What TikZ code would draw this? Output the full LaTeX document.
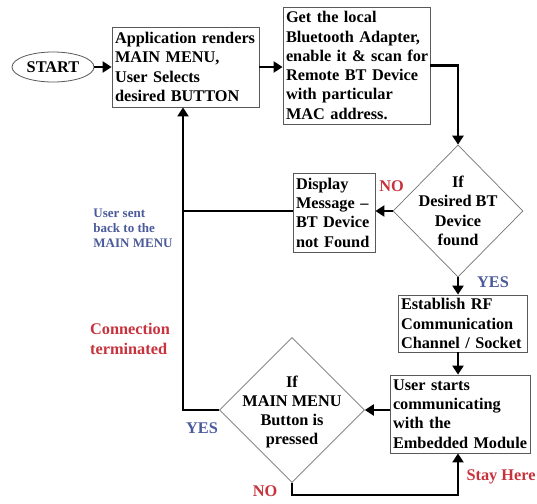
\documentclass[tikz,border=0pt]{standalone}
\usepackage{fontspec}
\setmainfont{Liberation Serif}
\usetikzlibrary{shapes.geometric,arrows.meta}
\definecolor{redlab}{HTML}{C8323C}
\definecolor{bluelab}{HTML}{4B5A9B}
\begin{document}
\begin{tikzpicture}[x=1pt,y=-1pt,
  font=\fontsize{16.3}{19.3}\selectfont\bfseries,
  box/.style={draw=black!65,line width=0.8pt,rectangle,align=left,inner xsep=3pt,inner ysep=1pt},
  dia/.style={draw=black!55,line width=0.7pt,diamond,inner sep=0pt},
  flow/.style={line width=2.2pt,-{Triangle[length=9pt,width=11pt]}},
  link/.style={line width=2.2pt},
  redl/.style={text=redlab,inner sep=0pt},
  bluel/.style={text=bluelab,inner sep=0pt}]
\useasboundingbox[fill=white] (0,0) rectangle (537,503);
\node[draw=black!65,line width=0.8pt,ellipse,minimum width=82pt,minimum height=30pt,inner sep=0pt] (start) at (53,67) {START};
\node[box,text width=141pt,minimum height=80pt] (b1) at (185.5,67) {\mbox{Application renders}\\MAIN MENU,\\User Selects\\desired BUTTON};
\node[box,text width=141pt,minimum height=117pt] (b2) at (356.5,65.5) {Get the local\\\mbox{Bluetooth Adapter,}\\\mbox{enable it \& scan for}\\Remote BT Device\\with particular\\MAC address.};
\node[box,text width=76pt,minimum height=79pt] (disp) at (334,212.5) {Display\\\mbox{Message –}\\BT Device\\not Found};
\node[box,text width=123pt,minimum height=57pt] (est) at (462.5,323.5) {Establish RF\\Communication\\\mbox{Channel / Socket}};
\node[box,text width=134pt,minimum height=78pt] (user) at (460,414) {User starts\\communicating\\with the\\\mbox{Embedded Module}};
\node[dia,minimum width=130pt,minimum height=132pt] (d1) at (458,211) {};
\node[align=center,inner sep=0pt] (d1t) at (458,211) {If\\Desired BT\\Device\\found};
\node[dia,minimum width=145pt,minimum height=145pt] (d2) at (292,410) {};
\node[align=center,inner sep=0pt] (d2t) at (292,412) {If\\MAIN MENU\\Button is\\pressed};
\coordinate (vl) at (183,410);
\coordinate (lp) at (292,495);
\draw[flow] (start) -- (start -| b1.west);
\draw[flow] (b1.east) -- (b1.east -| b2.west);
\draw[flow] (b2.east) -| (d1.north);
\draw[flow] (d1.west) -- (d1.west -| disp.east);
\draw[link] (d1.west -| disp.west) -- (d1.west -| vl);
\draw[flow] (d2.west) -- (vl) -- (vl |- b1.south);
\draw[flow] (d1.south) -- (d1.south |- est.north);
\draw[flow] (est.south -| d1.south) -- (d1.south |- user.north);
\draw[flow] (d2.east -| user.west) -- (d2.east);
\draw[flow] (d2.south) -- (lp) -| (d1.south |- user.south);
\node[redl] (no1) at (391.5,186) {NO};
\node[bluel] (yes1) at (493,282) {YES};
\node[bluel,font=\fontsize{13}{15}\selectfont\bfseries,align=left] (sent) at (133,228) {User sent\\back to the\\MAIN MENU};
\node[redl,align=left] (conn) at (130,339) {Connection\\terminated};
\node[bluel] (yes2) at (202,428) {YES};
\node[redl] (no2) at (265,491) {NO};
\node[redl] (stay) at (501,477) {Stay Here};
\end{tikzpicture}
\end{document}
